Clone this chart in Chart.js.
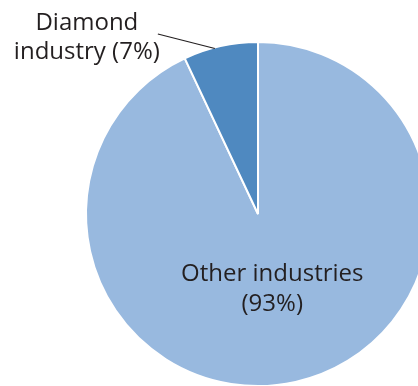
<!DOCTYPE html>
<html>
<head>
<meta charset="utf-8">
<script src="https://cdn.jsdelivr.net/npm/chart.js@4.4.1/dist/chart.umd.min.js"></script>
<style>
    html, body { margin: 0; padding: 0; background: #fff; overflow: hidden; }
    #wrap { position: relative; width: 418px; height: 386px; overflow: hidden; }
    #industry-chart { position: absolute; left: 0; top: 0; }
</style>
</head>
<body>
<div id="wrap">
    <canvas id="industry-chart" width="516" height="428"></canvas>
</div>
<script>
'use strict';

var sectors = ['Other industries', 'Diamond industry'];
var shares = [93, 7];
var sliceColors = ['#98b9df', '#4f89c0'];

// draws the two slice labels: one inside the big slice, one outside with a leader line
var sliceLabels = {
    id: 'sliceLabels',
    afterDatasetsDraw: function (chart) {
        var ctx = chart.ctx;
        var arcs = chart.getDatasetMeta(0).data;
        ctx.save();
        ctx.font = '24px "Open Sans"';
        ctx.fillStyle = '#231f20';
        ctx.textAlign = 'center';
        ctx.textBaseline = 'alphabetic';

        arcs.forEach(function (arc, i) {
            var pct = '(' + shares[i] + '%)';
            if (shares[i] > 50) {
                var mid = (arc.startAngle + arc.endAngle) / 2;
                var r = arc.outerRadius * 0.38;
                var x = arc.x + Math.cos(mid) * r;
                var y = arc.y + Math.sin(mid) * r;
                ctx.fillText('Other industries', x, y + 3);
                ctx.fillText(pct, x, y + 33);
            } else {
                // leader touches the rim a little past the middle of the slice
                var a = arc.startAngle + 0.42 * (arc.endAngle - arc.startAngle);
                var ex = arc.x + Math.cos(a) * (arc.outerRadius - 1);
                var ey = arc.y + Math.sin(a) * (arc.outerRadius - 1);
                var sx = ex - 57;
                var sy = ey - 14.5;
                ctx.strokeStyle = '#231f20';
                ctx.lineWidth = 1.2;
                ctx.beginPath();
                ctx.moveTo(sx, sy);
                ctx.lineTo(ex, ey);
                ctx.stroke();
                ctx.fillText('Diamond', sx - 71, sy - 4);
                ctx.fillText('industry ' + pct, sx - 71, sy + 25);
            }
        });
        ctx.restore();
    }
};

new Chart(document.getElementById('industry-chart'), {
    type: 'pie',
    data: {
        labels: sectors,
        datasets: [{
            data: shares,
            backgroundColor: sliceColors,
            borderColor: '#ffffff',
            borderWidth: 2
        }]
    },
    options: {
        responsive: false,
        animation: false,
        // pie is centred at (258, 214) and runs off the right and bottom edges
        layout: { padding: { left: 85, right: 85, top: 41, bottom: 41 } },
        plugins: {
            legend: { display: false },
            tooltip: { enabled: false }
        }
    },
    plugins: [sliceLabels]
});
</script>
</body>
</html>
